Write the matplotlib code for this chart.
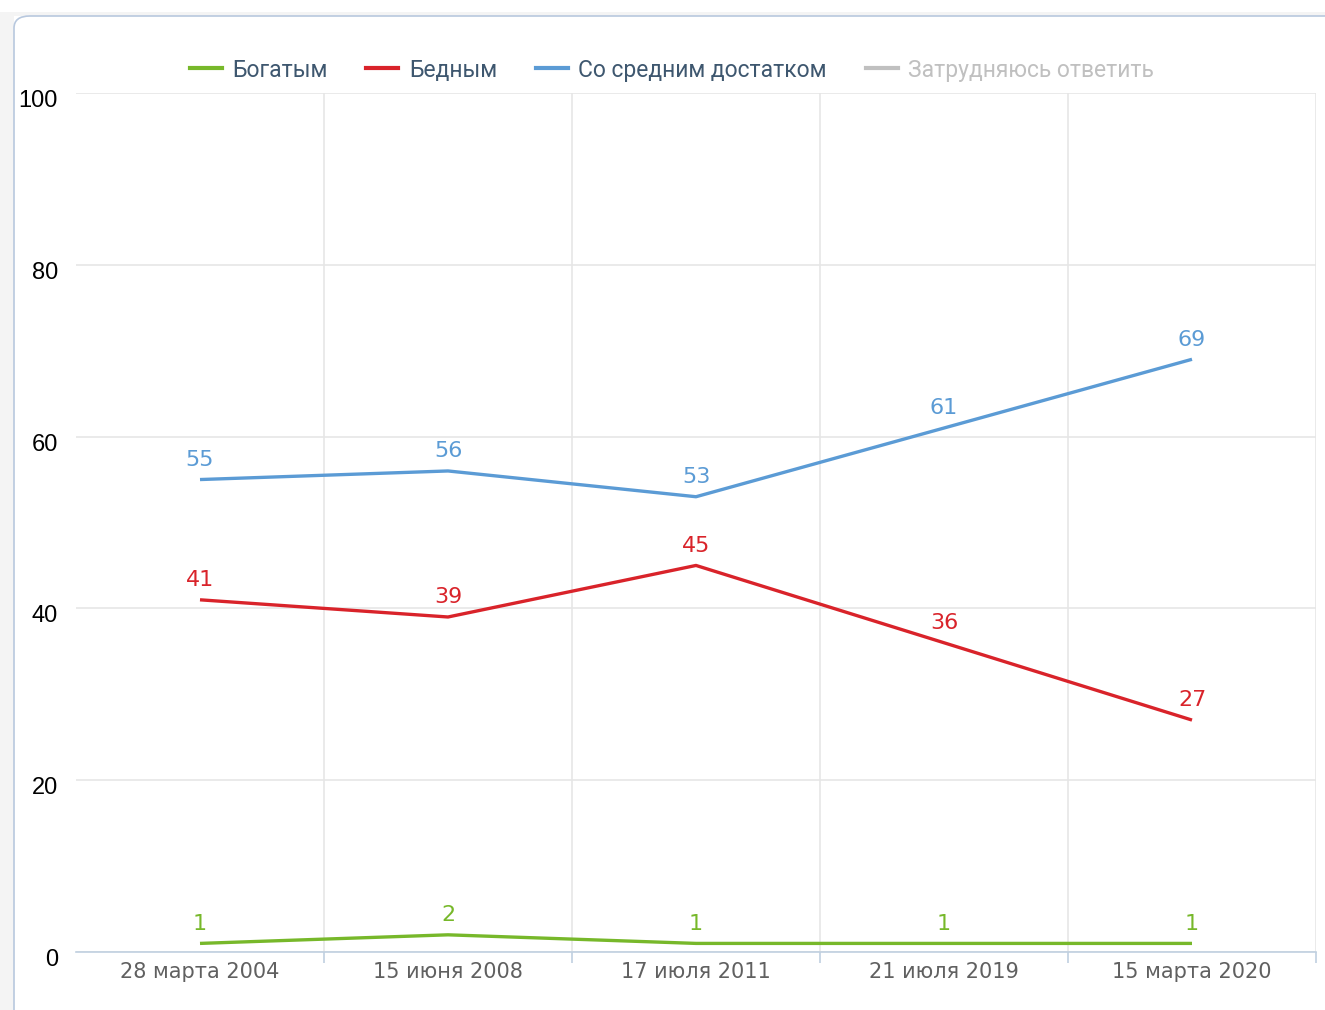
import matplotlib.pyplot as plt
import matplotlib.transforms as mtransforms
from matplotlib.lines import Line2D
from matplotlib.patches import FancyBboxPatch, Rectangle

# Data
dates = ['28 марта 2004', '15 июня 2008', '17 июля 2011', '21 июля 2019', '15 марта 2020']
rich = [1, 2, 1, 1, 1]
poor = [41, 39, 45, 36, 27]
middle = [55, 56, 53, 61, 69]
series_names = ['Богатым', 'Бедным', 'Со средним достатком', 'Затрудняюсь ответить']
colors = ['#77b82a', '#d9232a', '#5b9bd5', '#c0c0c0']

fig = plt.figure(figsize=(13.25, 10.10), dpi=100)
W, H = 1325, 1010

# outer page frame
fig.patches.append(Rectangle((0, 0), 14 / W, 1 - 12 / H, transform=fig.transFigure,
                             facecolor='#f4f4f4', edgecolor='none', zorder=0))
fig.patches.append(Rectangle((0, 1 - 16 / H), 1, 4 / H, transform=fig.transFigure,
                             facecolor='#f4f4f4', edgecolor='none', zorder=0))
fig.patches.append(FancyBboxPatch((14 / W, -0.05), 1.2, 1 - 16 / H + 0.05,
                                  boxstyle='round,pad=0,rounding_size=0.012',
                                  transform=fig.transFigure, facecolor='white',
                                  edgecolor='#b8c8de', linewidth=1.2, zorder=0.5))

ax = fig.add_axes([76 / W, 1 - 952 / H, (1316 - 76) / W, (952 - 93) / H])
ax.set_facecolor('none')
ax.set_zorder(2)

x = list(range(len(dates)))
for vals, c in zip([rich, poor, middle], colors[:3]):
    ax.plot(x, vals, color=c, linewidth=2.4, solid_capstyle='butt', zorder=3, clip_on=False)
    for xi, v in zip(x, vals):
        ax.annotate(str(v), (xi, v), xytext=(0, 7), textcoords='offset points',
                    ha='center', va='bottom', color=c, fontsize=16,
                    family='DejaVu Sans', zorder=4)

ax.set_xlim(-0.5, len(dates) - 0.5)
ax.set_ylim(0, 100)
ax.set_yticks([0, 20, 40, 60, 80, 100])
ax.set_xticks(x)
ax.set_xticklabels(dates, fontsize=15, color='#606060', family='DejaVu Sans')
ax.set_xticks([i + 0.5 for i in x], minor=True)
ax.tick_params(axis='x', which='major', length=0, pad=7)
ax.tick_params(axis='x', which='minor', length=8, color='#c0d0e0', width=1.2)
ax.tick_params(axis='y', length=0, pad=13, labelsize=17, labelcolor='black')
for lbl in ax.get_yticklabels():
    lbl.set_family('Liberation Sans')
    lbl.set_transform(lbl.get_transform() + mtransforms.ScaledTranslation(0, -4 / 72, fig.dpi_scale_trans))

ax.grid(axis='y', color='#e6e6e6', linewidth=1.2)
ax.grid(axis='x', which='minor', color='#e6e6e6', linewidth=1.2)
ax.set_axisbelow(True)
for side in ['top', 'left', 'right']:
    ax.spines[side].set_visible(False)
ax.spines['bottom'].set_color('#c0d0e0')
ax.spines['bottom'].set_linewidth(1.2)

handles = [Line2D([], [], color=c, linewidth=3) for c in colors]
leg = fig.legend(handles, series_names, loc='center', bbox_to_anchor=(0.507, 1 - 70 / H),
                 ncol=4, frameon=False, handlelength=1.4, handletextpad=0.45,
                 columnspacing=1.7, prop={'family': 'Roboto', 'size': 16.5})
leg.set_zorder(3)
for t, c in zip(leg.get_texts(), ['#3e576f', '#3e576f', '#3e576f', '#c0c0c0']):
    t.set_color(c)

fig.savefig('out.png', dpi=100)
